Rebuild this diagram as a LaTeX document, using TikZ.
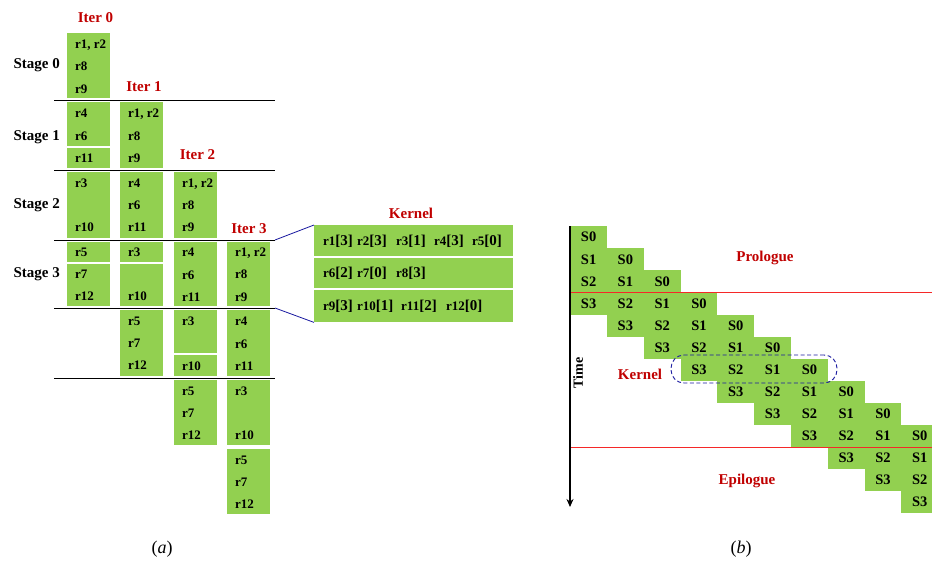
\documentclass[tikz,border=0pt]{standalone}
\usepackage{fontspec}
\setmainfont{Liberation Serif}
\usetikzlibrary{arrows.meta}
\definecolor{gfill}{RGB}{146,208,80}
\definecolor{dred}{RGB}{192,0,0}
\definecolor{lred}{RGB}{245,40,40}
\definecolor{dblue}{RGB}{25,25,160}
\newcommand\rfont{\fontsize{13}{15}\selectfont\bfseries}
\newcommand\gb[3]{\fill[gfill] (#1,#2) rectangle ({#1+43},#3);}
\newcommand\rt[4]{\node[rtxt] (#1) at (#2,#3) {#4};}
\newcommand\kr[2]{r{\fontsize{13}{15}\selectfont #1}{\fontsize{15}{17}\selectfont[#2]}}
\begin{document}
\begin{tikzpicture}[x=1pt,y=-1pt,
  rtxt/.style={anchor=west,inner sep=0pt,font=\rfont,text height=8.5pt,text depth=0pt},
  lab/.style={inner sep=0pt,font=\fontsize{15}{17}\selectfont\bfseries},
  redlab/.style={lab,text=dred},
  ktxt/.style={anchor=west,inner sep=0pt,font=\bfseries\fontsize{13}{15}\selectfont,text height=9pt,text depth=0pt},
  krow/.style={fill=gfill,minimum width=199pt,inner sep=0pt,anchor=north west},
  cell/.style={fill=gfill,minimum width=36.8pt,minimum height=22.08pt,inner sep=0pt,anchor=north west,font=\fontsize{14.5}{16}\selectfont\bfseries},
  sepline/.style={line width=0.8pt,black},
  conn/.style={line width=0.8pt,dblue},
  caption/.style={inner sep=0pt,font=\fontsize{18}{20}\selectfont},
]
\useasboundingbox (0,0) rectangle (932,562);

% ---------- (a) boxes ----------
\gb{67}{33}{98} \gb{67}{102}{146} \gb{67}{148}{168} \gb{67}{172}{238} \gb{67}{242}{262} \gb{67}{264}{306}
\gb{120}{102}{168} \gb{120}{172}{238} \gb{120}{242}{262} \gb{120}{264}{306} \gb{120}{310}{376}
\gb{174}{172}{238} \gb{174}{242}{306} \gb{174}{310}{353} \gb{174}{355}{376} \gb{174}{380}{445}
\gb{227}{242}{306} \gb{227}{310}{376} \gb{227}{380}{445} \gb{227}{449}{514}

% separator lines
\foreach \y/\n in {100/1,170/2,240/3,308/4,378/5}{
  \coordinate (L\n w) at (54,\y);
  \coordinate (L\n e) at (275,\y);
  \draw[sepline] (L\n w) -- (L\n e);
}

% column 0
\rt{a0}{75}{44}{r1, r2} \rt{a1}{75}{66}{r8} \rt{a2}{75}{89}{r9}
\rt{a3}{75}{113}{r4} \rt{a4}{75}{136}{r6} \rt{a5}{75}{158}{r11}
\rt{a6}{75}{183}{r3} \rt{a7}{75}{227}{r10}
\rt{a8}{75}{252}{r5} \rt{a9}{75}{274}{r7} \rt{a10}{75}{296}{r12}
% column 1
\rt{b0}{128}{113}{r1, r2} \rt{b1}{128}{136}{r8} \rt{b2}{128}{158}{r9}
\rt{b3}{128}{183}{r4} \rt{b4}{128}{205}{r6} \rt{b5}{128}{227}{r11}
\rt{b6}{128}{252}{r3} \rt{b7}{128}{296}{r10}
\rt{b8}{128}{321}{r5} \rt{b9}{128}{343}{r7} \rt{b10}{128}{365}{r12}
% column 2
\rt{c0}{182}{183}{r1, r2} \rt{c1}{182}{205}{r8} \rt{c2}{182}{227}{r9}
\rt{c3}{182}{252}{r4} \rt{c4}{182}{275}{r6} \rt{c5}{182}{297}{r11}
\rt{c6}{182}{321}{r3} \rt{c7}{182}{366}{r10}
\rt{c8}{182}{391}{r5} \rt{c9}{182}{413}{r7} \rt{c10}{182}{435}{r12}
% column 3
\rt{d0}{235}{252}{r1, r2} \rt{d1}{235}{274}{r8} \rt{d2}{235}{297}{r9}
\rt{d3}{235}{321}{r4} \rt{d4}{235}{344}{r6} \rt{d5}{235}{366}{r11}
\rt{d6}{235}{391}{r3} \rt{d7}{235}{435}{r10}
\rt{d8}{235}{460}{r5} \rt{d9}{235}{482}{r7} \rt{d10}{235}{504}{r12}

% stage labels
\node[lab,anchor=east] (st0) at (60,65) {Stage 0};
\node[lab,anchor=east] (st1) at (60,137) {Stage 1};
\node[lab,anchor=east] (st2) at (60,205) {Stage 2};
\node[lab,anchor=east] (st3) at (60,274) {Stage 3};
% iter labels
\node[redlab] (it0) at (95.5,18) {Iter 0};
\node[redlab] (it1) at (144,87) {Iter 1};
\node[redlab] (it2) at (197.5,155) {Iter 2};
\node[redlab] (it3) at (249,229) {Iter 3};

% kernel
\node[redlab] (kern) at (411,213) {Kernel};
\node[krow,minimum height=31pt] (k1) at (314,225) {};
\node[krow,minimum height=30pt] (k2) at (314,258) {};
\node[krow,minimum height=32pt] (k3) at (314,290) {};
\node[ktxt] (k1a) at (323,241) {\kr{1}{3}};
\node[ktxt] (k1b) at (357,241) {\kr{2}{3}};
\node[ktxt] (k1c) at (396,241) {\kr{3}{1}};
\node[ktxt] (k1d) at (434,241) {\kr{4}{3}};
\node[ktxt] (k1e) at (472,241) {\kr{5}{0}};
\node[ktxt] (k2a) at (323,273) {\kr{6}{2}};
\node[ktxt] (k2b) at (357,273) {\kr{7}{0}};
\node[ktxt] (k2c) at (396,273) {\kr{8}{3}};
\node[ktxt] (k3a) at (323,306) {\kr{9}{3}};
\node[ktxt] (k3b) at (357,306) {\kr{10}{1}};
\node[ktxt] (k3c) at (401,306) {\kr{11}{2}};
\node[ktxt] (k3d) at (446,306) {\kr{12}{0}};
\draw[conn] (L3e) -- (k1.north west);
\draw[conn] (L4e) -- (k3.south west);

% ---------- (b) ----------
\begin{scope}
\clip (560,200) rectangle (932,520);
\foreach \r in {0,...,12}{
  \foreach \s in {0,...,3}{
    \pgfmathtruncatemacro\c{\r-\s}
    \ifnum\c>-1 \ifnum\c<10
      \node[cell] (s\r-\c) at ({570+36.8*\c},{226+22.08*\r}) {S\s};
    \fi\fi
  }
}
\end{scope}
\coordinate (P1) at (570,292);
\coordinate (P2) at (932,292);
\coordinate (E1) at (570,447);
\coordinate (E2) at (932,447);
\draw[lred,line width=0.9pt] (P1) -- (P2);
\draw[lred,line width=0.9pt] (E1) -- (E2);
\coordinate (T0) at (570,226);
\coordinate (T1) at (570,507);
\draw[line width=1.2pt,-{Stealth[length=8pt,width=7pt]}] (T0) -- (T1);
\node[inner sep=0pt,rotate=90,font=\fontsize{14}{16}\selectfont\bfseries] (time) at (578,373) {Time};
\node[draw=dblue,dash pattern=on 4pt off 2.5pt,line width=0.9pt,rounded corners=13pt,minimum width=166pt,minimum height=28pt,inner sep=0pt] (kbox) at (754,369) {};
\node[redlab] (prol) at (765,258) {Prologue};
\node[redlab] (kern2) at (640,374) {Kernel};
\node[redlab] (epil) at (747,481) {Epilogue};

% captions
\node[caption] (capa) at (162,549) {(\textit{a})};
\node[caption] (capb) at (741,549) {(\textit{b})};
\end{tikzpicture}
\end{document}
